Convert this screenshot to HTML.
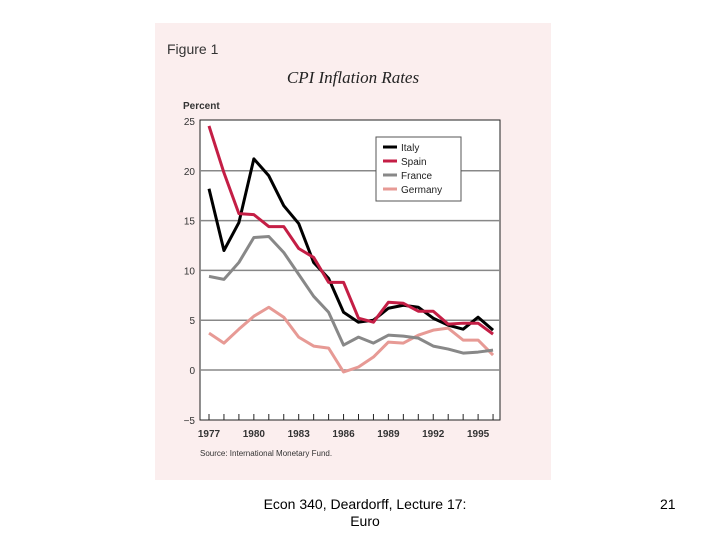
<!DOCTYPE html>
<html><head><meta charset="utf-8"><style>
body{margin:0;width:720px;height:540px;background:#fff;position:relative;font-family:"Liberation Sans",sans-serif;overflow:hidden}
.foot{position:absolute;font-size:14px;color:#000}
</style></head><body>
<svg width="720" height="540" style="position:absolute;left:0;top:0">
<rect x="155" y="23" width="396" height="457" fill="#fbeeee"/>
<text x="167" y="54" font-size="14" fill="#333">Figure 1</text>
<text x="353" y="83" font-size="17" font-style="italic" font-family="Liberation Serif,serif" text-anchor="middle" fill="#222">CPI Inflation Rates</text>
<text x="183" y="109" font-size="10" font-weight="bold" fill="#333">Percent</text>
<rect x="200" y="120" width="300" height="300" fill="#fff" stroke="#222" stroke-width="1"/>
<g id="grid"></g><g id="series"></g>
<g>
<rect x="376" y="137" width="85" height="64" fill="#fff" stroke="#555"/>
<line x1="383" y1="147" x2="397" y2="147" stroke="#000" stroke-width="3"/><text x="401" y="151" font-size="10" fill="#222">Italy</text>
<line x1="383" y1="161" x2="397" y2="161" stroke="#c41e45" stroke-width="3"/><text x="401" y="165" font-size="10" fill="#222">Spain</text>
<line x1="383" y1="175" x2="397" y2="175" stroke="#888" stroke-width="3"/><text x="401" y="179" font-size="10" fill="#222">France</text>
<line x1="383" y1="189" x2="397" y2="189" stroke="#e79a95" stroke-width="3"/><text x="401" y="193" font-size="10" fill="#222">Germany</text>
</g>
<text x="200" y="456" font-size="8" fill="#333">Source: International Monetary Fund.</text>
</svg>
<div class="foot" style="left:240px;top:496px;width:250px;text-align:center;line-height:17px">Econ 340, Deardorff, Lecture 17:<br>Euro</div>
<div class="foot" style="left:660px;top:496px">21</div>
<script>
const years=[1977,1978,1979,1980,1981,1982,1983,1984,1985,1986,1987,1988,1989,1990,1991,1992,1993,1994,1995,1996];
const italy=[18.2,12,14.8,21.2,19.5,16.5,14.7,10.8,9.2,5.8,4.8,5.0,6.2,6.5,6.3,5.2,4.5,4.1,5.3,4.0];
const spain=[24.5,19.8,15.7,15.6,14.4,14.4,12.2,11.3,8.8,8.8,5.2,4.8,6.8,6.7,5.9,5.9,4.6,4.7,4.7,3.6];
const france=[9.4,9.1,10.8,13.3,13.4,11.8,9.6,7.4,5.8,2.5,3.3,2.7,3.5,3.4,3.2,2.4,2.1,1.7,1.8,2.0];
const germany=[3.7,2.7,4.1,5.4,6.3,5.3,3.3,2.4,2.2,-0.2,0.3,1.3,2.8,2.7,3.5,4.0,4.2,3.0,3.0,1.5];
const yTicks=[25,20,15,10,5,0,-5];
const xLabels=[1977,1980,1983,1986,1989,1992,1995];
const NS='http://www.w3.org/2000/svg';
const x=v=>209+(v-1977)*14.95;
const y=v=>370-v*9.96;
const grid=document.getElementById('grid'),ser=document.getElementById('series');
function mk(tag,at,parent){const e=document.createElementNS(NS,tag);for(const k in at)e.setAttribute(k,at[k]);parent.appendChild(e);return e;}
yTicks.forEach(t=>{
 if(t>-5&&t<25){const l=mk('line',{x1:200,x2:500,y1:y(t),y2:y(t),stroke:'#888','stroke-width':1.5},grid);
 
 }
 const tx=mk('text',{x:195,y:y(t)+4,'font-size':10,'text-anchor':'end',fill:'#333'},grid);
 tx.textContent=t<0?'\u22125':t;
 
 
});
years.forEach(yr=>{
 const l=mk('line',{x1:x(yr),x2:x(yr),y1:414,y2:420,stroke:'#222','stroke-width':1},grid);
 
 
});
xLabels.forEach(yr=>{
 const t=mk('text',{x:x(yr),y:437,'font-size':10,'font-weight':'bold','text-anchor':'middle',fill:'#333'},grid);
 t.textContent=yr;
 
 
});
[[germany,'#e79a95','germany-line'],[france,'#888','france-line'],[italy,'#000','italy-line'],[spain,'#c41e45','spain-line']].forEach(([d,c,n])=>{
 const p=mk('polyline',{points:d.map((v,i)=>x(years[i])+','+y(v)).join(' '),fill:'none',stroke:c,'stroke-width':3,'stroke-linejoin':'round'},ser);
 
 
});
</script>
</body></html>
